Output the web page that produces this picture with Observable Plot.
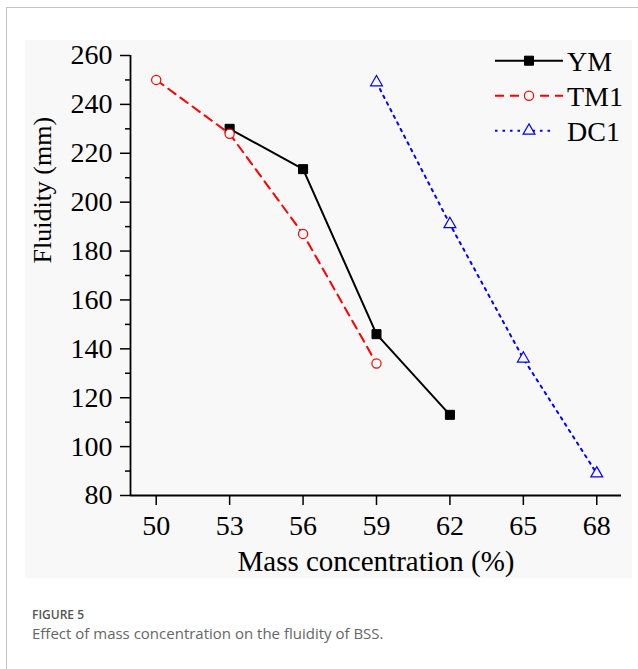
<!DOCTYPE html>
<html>
<head>
<meta charset="utf-8">
<script src="https://cdn.jsdelivr.net/npm/d3@7"></script>
<script src="https://cdn.jsdelivr.net/npm/@observablehq/plot@0.6"></script>
<style>
  html, body { margin: 0; padding: 0; background: #fff; }
  #page { position: relative; width: 638px; height: 669px; overflow: hidden; }
  #card { position: absolute; left: 6px; top: 7px; width: 640px; height: 670px;
          border-left: 1.5px solid #c4c4c4; border-top: 1.5px solid #c4c4c4; }
  #panel { position: absolute; left: 25px; top: 40px; width: 607px; height: 538px; background: #f8f8f8; }
  #chart { position: absolute; left: 0; top: 0; }
  #legend { position: absolute; left: 480px; top: 40px; }
  .cap-num { position: absolute; left: 32px; top: 606px; line-height: 1; white-space: nowrap;
             font: 600 12px "Open Sans", "Noto Sans", sans-serif; color: #555; }
  .cap-text { position: absolute; left: 32px; top: 623px; line-height: 1; white-space: nowrap;
              font: 400 15px "Open Sans", "Noto Sans", sans-serif; color: #666; }
</style>
</head>
<body>
<div id="page">
  <div id="card"></div>
  <div id="panel"></div>
  <div id="chart"></div>
  <svg id="legend" width="150" height="110"></svg>
  <div class="cap-num">FIGURE 5</div>
  <div class="cap-text">Effect of mass concentration on the fluidity of BSS.</div>
</div>
<script>
// Mass concentration (%) and fluidity (mm) for each slurry
const ymConc  = [53, 56, 59, 62];
const ymFluid = [230, 213.5, 146, 113];

const tm1Conc  = [50, 53, 56, 59];
const tm1Fluid = [250, 228, 187, 134];

const dc1Conc  = [59, 62, 65, 68];
const dc1Fluid = [249, 191, 136, 89];

const seriesNames = ["YM", "TM1", "DC1"];
const xTicks = [50, 53, 56, 59, 62, 65, 68];
const yTicks = [80, 100, 120, 140, 160, 180, 200, 220, 240, 260];
const yMinorTicks = [90, 110, 130, 150, 170, 190, 210, 230, 250];

const xDomain = [48.95, 69.01];
const yDomain = [80, 260];

const rows = (conc, fluid, name) => conc.map((c, i) => ({conc: c, fluid: fluid[i], name}));
const ym = rows(ymConc, ymFluid, "YM");
const tm1 = rows(tm1Conc, tm1Fluid, "TM1");
const dc1 = rows(dc1Conc, dc1Fluid, "DC1");

// Line and symbol styling per series
const styles = {
  YM:  {color: "#000000", dash: null,  symbol: "square",   r: 5.1, fill: "#000000"},
  TM1: {color: "#ff0000", dash: "9,6", symbol: "circle",   r: 4.6, fill: "#f8f8f8"},
  DC1: {color: "#0000ff", dash: "2.5,5", symbol: "triangle", r: 4.4, fill: "#f8f8f8"}
};

const seriesMarks = [[ym, "YM"], [tm1, "TM1"], [dc1, "DC1"]].flatMap(([data, name]) => {
  const s = styles[name];
  return [
    Plot.line(data, {x: "conc", y: "fluid", stroke: s.color, strokeWidth: 2, strokeDasharray: s.dash}),
    Plot.dot(data, {x: "conc", y: "fluid", symbol: s.symbol, r: s.r, fill: s.fill,
                    stroke: s.color, strokeWidth: name === "YM" ? 1 : 1.2})
  ];
});

const serif = "'Liberation Serif', 'Times New Roman', serif";

const chart = Plot.plot({
  width: 638,
  height: 590,
  marginLeft: 130,
  marginRight: 17,
  marginTop: 55,
  marginBottom: 95,
  x: {domain: xDomain},
  y: {domain: yDomain},
  style: {fontFamily: serif, background: "transparent", color: "#000", overflow: "visible"},
  marks: [
    Plot.axisY(yMinorTicks, {tickSize: 5, strokeWidth: 1.5, text: null, label: null}),
    Plot.axisY(yTicks, {tickSize: 10, tickPadding: 8, strokeWidth: 1.5, fontSize: 28, label: null}),
    Plot.axisX(xTicks, {tickSize: 10, tickPadding: 10, strokeWidth: 1.5, fontSize: 28, label: null}),
    Plot.ruleX([xDomain[0]], {stroke: "#000", strokeWidth: 1.8}),
    Plot.ruleY([yDomain[0]], {stroke: "#000", strokeWidth: 1.8}),
    Plot.text(["Mass concentration (%)"], {frameAnchor: "bottom", dy: 66, fontSize: 29, lineAnchor: "middle", fill: "#000"}),
    Plot.text(["Fluidity (mm)"], {frameAnchor: "left", dx: -88, dy: -12, rotate: -90, fontSize: 26, lineAnchor: "middle", fill: "#000"}),
    ...seriesMarks
  ]
});
document.getElementById("chart").appendChild(chart);

// Legend: line sample with centred symbol, then series name
const legend = d3.select("#legend");
seriesNames.forEach((name, i) => {
  const s = styles[name];
  const g = legend.append("g").attr("transform", `translate(0, ${20.7 + i * 35})`);
  const x1 = 15, x2 = name === "DC1" ? 74 : 83;
  g.append("line").attr("x1", x1).attr("x2", x2).attr("y1", 0).attr("y2", 0)
    .attr("stroke", s.color).attr("stroke-width", 2)
    .attr("stroke-dasharray", s.dash);
  const sym = {square: d3.symbolSquare, circle: d3.symbolCircle, triangle: d3.symbolTriangle}[s.symbol];
  g.append("path").attr("transform", "translate(49, 0)")
    .attr("d", d3.symbol(sym, s.r * s.r * Math.PI)())
    .attr("fill", s.fill).attr("stroke", s.color).attr("stroke-width", name === "YM" ? 1 : 1.2);
  g.append("text").attr("x", 87).attr("y", 0).attr("dy", "0.35em")
    .attr("font-family", serif)
    .attr("font-size", 28).attr("fill", "#000").text(name);
});
</script>
</body>
</html>
